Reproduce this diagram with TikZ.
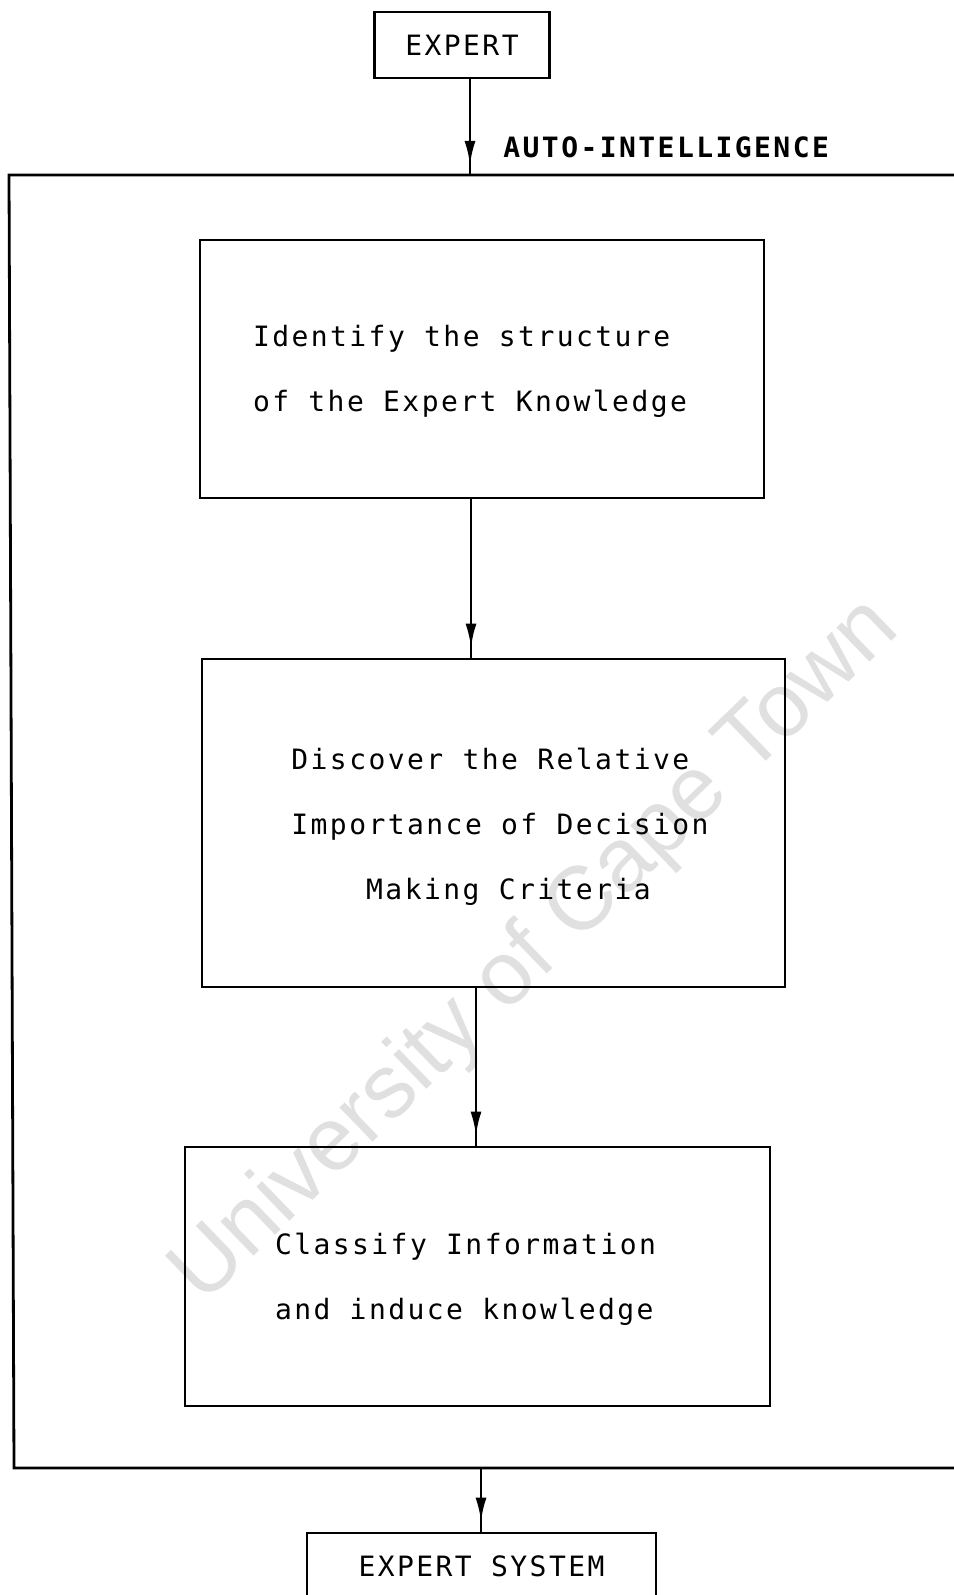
\documentclass[tikz,border=0pt]{standalone}
\usepackage{fontspec}
\setmainfont{Liberation Sans}
\newfontfamily\dotfont[LetterSpace=8.7]{DejaVu Sans Mono}
\usetikzlibrary{arrows.meta,decorations.markings}

\tikzset{
  box/.style={draw=black, line width=1.4pt, inner sep=0pt},
  boxtext/.style={font=\dotfont\fontsize{14}{32.5}\selectfont, align=left, inner sep=0pt},
  flow/.style={draw=black, line width=1.4pt, postaction={decorate},
    decoration={markings, mark=at position -5pt with {\arrow{Latex[length=12pt,width=5.5pt]}}}},
  frame/.style={draw=black, line width=1.4pt},
  watermark/.style={font=\fontsize{45}{45}\selectfont, text=black!12, rotate=44}
}

\begin{document}
\begin{tikzpicture}[x=0.5pt,y=-0.5pt]
  \useasboundingbox (0,0) rectangle (953,1595);

  % watermark of the scan
  \node[watermark] (uct) at (536,952) {University of Cape Town};

  % boxes
  \node[box, minimum width=87.5pt, minimum height=33pt, font=\dotfont\fontsize{14}{17}\selectfont] (expert) at (462,45) {EXPERT};
  \node[box, minimum width=282pt, minimum height=129pt] (identify) at (482,369) {};
  \node[box, minimum width=291.5pt, minimum height=164pt] (discover) at (493.5,823) {};
  \node[box, minimum width=292.5pt, minimum height=129.5pt] (classify) at (477.5,1276.5) {};
  \node[box, minimum width=174.5pt, minimum height=33pt, font=\dotfont\fontsize{14}{17}\selectfont] (expsys) at (481.5,1566) {EXPERT SYSTEM};

  % texts in the boxes
  \node[boxtext] (identify-t) at (470,371) {Identify the structure\\of the Expert Knowledge};
  \node[boxtext] (discover-t) at (500,827) {Discover the Relative\\Importance of Decision\\\phantom{Maki}Making Criteria};
  \node[boxtext] (classify-t) at (465.5,1279) {Classify Information\\and induce knowledge};

  % outer frame, open on the right
  \draw[frame] (960,175) -- (9,175) -- (14,1468) -- (960,1468);
  \node[font=\dotfont\bfseries\fontsize{14}{17}\selectfont, anchor=base west, inner sep=0pt] (autolbl) at (503,157) {AUTO-INTELLIGENCE};

  % arrows
  \coordinate (ai) at (470,175);
  \coordinate (a1) at (471,0);
  \coordinate (a2) at (476,0);
  \coordinate (es) at (481,1468);
  \draw[flow] (expert.south -| ai) -- (ai);
  \draw[flow] (identify.south -| a1) -- (discover.north -| a1);
  \draw[flow] (discover.south -| a2) -- (classify.north -| a2);
  \draw[flow] (es) -- (expsys.north -| es);
\end{tikzpicture}
\end{document}
